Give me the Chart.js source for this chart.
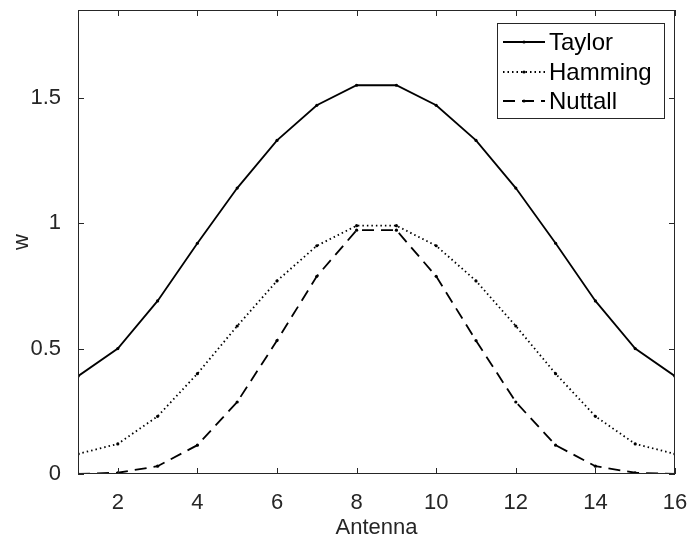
<!DOCTYPE html>
<html>
<head>
<meta charset="utf-8">
<script src="https://cdn.jsdelivr.net/npm/chart.js@4"></script>
<style>
  html, body { margin: 0; padding: 0; background: #fff; }
  #wrap { width: 689px; height: 541px; }
</style>
</head>
<body>
<div id="wrap"><canvas id="chart"></canvas></div>
<script>
const antennas = [1, 2, 3, 4, 5, 6, 7, 8, 9, 10, 11, 12, 13, 14, 15, 16];
const taylor = [0.39, 0.50, 0.69, 0.92, 1.14, 1.33, 1.47, 1.55, 1.55, 1.47, 1.33, 1.14, 0.92, 0.69, 0.50, 0.39];
const hamming = [0.08, 0.12, 0.23, 0.40, 0.59, 0.77, 0.91, 0.99, 0.99, 0.91, 0.77, 0.59, 0.40, 0.23, 0.12, 0.08];
const nuttall = [0.0004, 0.005, 0.031, 0.115, 0.287, 0.532, 0.788, 0.972, 0.972, 0.788, 0.532, 0.287, 0.115, 0.031, 0.005, 0.0004];
const xTicks = [2, 4, 6, 8, 10, 12, 14, 16];
const yTicks = [0, 0.5, 1, 1.5];

const axisColor = "#262626";
const fontFamily = "'Liberation Sans', Arial, sans-serif";

function toPoints(values) {
  return antennas.map((a, i) => ({ x: a, y: values[i] }));
}

function makeSet(label, values, dash) {
  return {
    label: label,
    data: toPoints(values),
    borderColor: "#000",
    backgroundColor: "#000",
    borderWidth: 1.8,
    borderDash: dash,
    pointRadius: 1.6,
    pointBorderWidth: 0,
    pointBackgroundColor: "#000",
    tension: 0,
  };
}

// box around the plot, ticks pointing inward, and the legend inside the plot
const matlabFrame = {
  id: "matlabFrame",
  afterDraw(chart) {
    const ctx = chart.ctx;
    const a = chart.chartArea;
    const xs = chart.scales.x;
    const ys = chart.scales.y;
    const tl = 6;

    ctx.save();
    ctx.strokeStyle = axisColor;
    ctx.lineWidth = 1;
    ctx.strokeRect(a.left + 0.5, a.top + 0.5, a.right - a.left - 1, a.bottom - a.top - 1);

    ctx.beginPath();
    xTicks.forEach((t) => {
      const px = Math.round(xs.getPixelForValue(t)) + 0.5;
      ctx.moveTo(px, a.bottom);
      ctx.lineTo(px, a.bottom - tl);
      ctx.moveTo(px, a.top);
      ctx.lineTo(px, a.top + tl);
    });
    yTicks.forEach((t) => {
      const py = Math.round(ys.getPixelForValue(t)) + 0.5;
      ctx.moveTo(a.left, py);
      ctx.lineTo(a.left + tl, py);
      ctx.moveTo(a.right, py);
      ctx.lineTo(a.right - tl, py);
    });
    ctx.stroke();

    // legend
    const bx = 497, by = 23, bw = 167, bh = 95;
    ctx.fillStyle = "#fff";
    ctx.fillRect(bx, by, bw, bh);
    ctx.strokeStyle = axisColor;
    ctx.lineWidth = 1;
    ctx.strokeRect(bx + 0.5, by + 0.5, bw, bh);

    const rows = [42, 72, 101];
    chart.data.datasets.forEach((ds, i) => {
      const y = rows[i];
      ctx.strokeStyle = "#000";
      ctx.lineWidth = ds.borderWidth;
      ctx.setLineDash(ds.borderDash || []);
      ctx.beginPath();
      ctx.moveTo(503, y);
      ctx.lineTo(545, y);
      ctx.stroke();
      ctx.setLineDash([]);
      ctx.fillStyle = "#000";
      ctx.beginPath();
      ctx.arc(524, y, 1.6, 0, Math.PI * 2);
      ctx.fill();
      ctx.font = "24px " + fontFamily;
      ctx.textBaseline = "middle";
      ctx.textAlign = "left";
      ctx.fillText(ds.label, 549, y + 1);
    });
    ctx.restore();
  },
};

new Chart(document.getElementById("chart"), {
  type: "line",
  data: {
    datasets: [
      makeSet("Taylor", taylor, []),
      makeSet("Hamming", hamming, [1.5, 3]),
      makeSet("Nuttall", nuttall, [12, 7]),
    ],
  },
  options: {
    responsive: true,
    maintainAspectRatio: false,
    animation: false,
    layout: {
      padding: { top: 10, right: 14, left: 0, bottom: 0 },
    },
    plugins: {
      legend: { display: false },
      tooltip: { enabled: false },
    },
    scales: {
      x: {
        type: "linear",
        min: 1,
        max: 16,
        afterBuildTicks: (s) => {
          s.ticks = xTicks.map((v) => ({ value: v }));
        },
        afterFit: (s) => {
          s.height = 67;
          s.paddingLeft = 0;
          s.paddingRight = 0;
        },
        grid: { display: false },
        border: { display: false },
        ticks: {
          color: axisColor,
          padding: 8,
          maxRotation: 0,
          font: { size: 22, family: fontFamily },
        },
        title: {
          display: true,
          text: "Antenna",
          color: axisColor,
          padding: { top: 0, bottom: 0 },
          font: { size: 22, family: fontFamily },
        },
      },
      y: {
        min: 0,
        max: 1.85,
        afterBuildTicks: (s) => {
          s.ticks = yTicks.map((v) => ({ value: v }));
        },
        afterFit: (s) => {
          s.width = 78;
          s.paddingTop = 0;
          s.paddingBottom = 0;
        },
        grid: { display: false },
        border: { display: false },
        ticks: {
          color: axisColor,
          padding: 9,
          font: { size: 22, family: fontFamily },
          callback: (v) => String(v),
        },
        title: {
          display: true,
          text: "w",
          color: axisColor,
          padding: { top: 9, bottom: 0 },
          font: { size: 22, family: fontFamily },
        },
      },
    },
  },
  plugins: [matlabFrame],
});
</script>
</body>
</html>
